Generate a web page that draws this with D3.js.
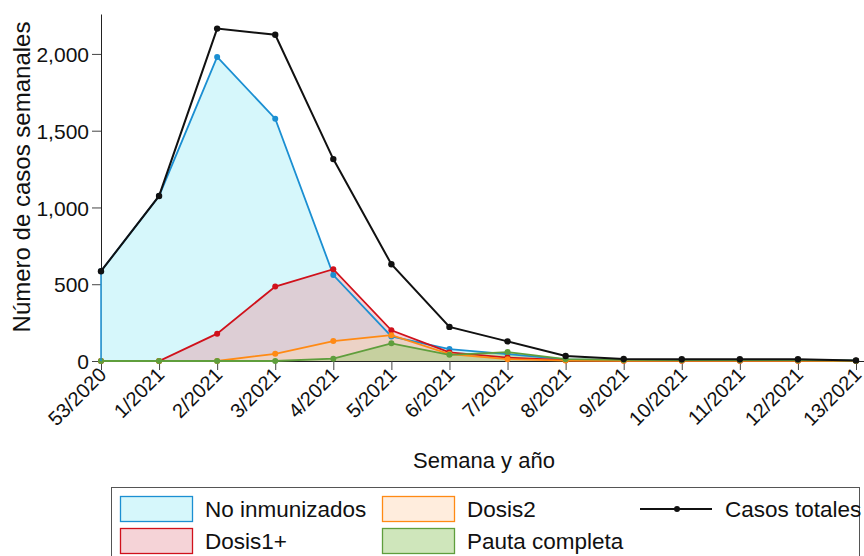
<!DOCTYPE html>
<html><head><meta charset="utf-8">
<script src="https://cdn.jsdelivr.net/npm/d3@7"></script>
<style>body{margin:0;background:#fff}svg{display:block;font-family:"Liberation Sans",Arial,sans-serif}</style>
</head><body><svg id="c" width="864" height="556"></svg>
<script>
const weeks = ["53/2020","1/2021","2/2021","3/2021","4/2021","5/2021","6/2021","7/2021","8/2021","9/2021","10/2021","11/2021","12/2021","13/2021"];
const casosTotales = [585, 1075, 2165, 2125, 1315, 630, 222, 128, 33, 13, 11, 11, 11, 4];
const noInmunizados = [585, 1075, 1980, 1578, 560, 160, 78, 45, 10, 5, 4, 4, 4, 2];
const dosis1 = [0, 0, 178, 485, 598, 200, 56, 22, 5, 2, 2, 2, 2, 1];
const dosis2 = [0, 0, 0, 47, 130, 168, 45, 12, 3, 1, 1, 1, 1, 0];
const pauta = [0, 0, 0, 0, 15, 115, 40, 58, 12, 7, 6, 6, 6, 2];
const yTicks = [0, 500, 1000, 1500, 2000];

const svg = d3.select("#c");
const x = d3.scalePoint().domain(weeks).range([101, 856]);
const y = d3.scaleLinear().domain([0, 2260]).range([361, 14]);

const series = [
  {name:"No inmunizados", v:noInmunizados, stroke:"#1b8fd2", fill:"rgba(200,244,250,0.75)"},
  {name:"Dosis1+", v:dosis1, stroke:"#d0111b", fill:"rgba(232,150,160,0.42)"},
  {name:"Dosis2", v:dosis2, stroke:"#ff8a14", fill:"rgba(255,215,180,0.45)"},
  {name:"Pauta completa", v:pauta, stroke:"#5f9e3c", fill:"rgba(160,205,120,0.5)"}
];

const area = d3.area().x((d,i)=>x(weeks[i])).y0(y(0)).y1(d=>y(d));
const line = d3.line().x((d,i)=>x(weeks[i])).y(d=>y(d));

// axes
const yAxis = svg.append("g").attr("transform","translate(101,0)")
  .call(d3.axisLeft(y).tickValues(yTicks).tickFormat(d3.format(",")).tickSize(9).tickSizeOuter(0));
yAxis.select(".domain").attr("stroke","#222");
yAxis.selectAll("line").attr("stroke","#444");
yAxis.selectAll("text").attr("font-size",21).attr("fill","#111").attr("x",-12).attr("dy","0.36em");

const xAxis = svg.append("g").attr("transform","translate(0,361)")
  .call(d3.axisBottom(x).tickSize(9).tickSizeOuter(0));
xAxis.select(".domain").attr("d","M101,0.5H864").attr("stroke","#222");
xAxis.selectAll("line").attr("stroke","#444");
xAxis.selectAll("text").attr("font-size",20).attr("fill","#111")
  .attr("text-anchor","end").attr("dy",null).attr("y",0)
  .attr("transform","translate(6,15) rotate(-45)");

series.forEach(s=>{
  svg.append("path").datum(s.v).attr("d",area).attr("fill",s.fill).attr("stroke","none");
});
series.forEach(s=>{
  svg.append("path").datum(s.v).attr("d",line).attr("fill","none").attr("stroke",s.stroke).attr("stroke-width",1.8);
  svg.append("g").selectAll("circle").data(s.v).join("circle")
    .attr("cx",(d,i)=>x(weeks[i])).attr("cy",d=>y(d)).attr("r",3).attr("fill",s.stroke);
});
// left edge of blue area
svg.append("line").attr("x1",x(weeks[0])).attr("x2",x(weeks[0])).attr("y1",y(0)).attr("y2",y(noInmunizados[0])).attr("stroke","#1b8fd2").attr("stroke-width",1.5);

svg.append("path").datum(casosTotales).attr("d",line).attr("fill","none").attr("stroke","#111").attr("stroke-width",2);
svg.append("g").selectAll("circle").data(casosTotales).join("circle")
  .attr("cx",(d,i)=>x(weeks[i])).attr("cy",d=>y(d)).attr("r",3.2).attr("fill","#111");

// titles
svg.append("text").attr("x",484).attr("y",468).attr("text-anchor","middle").attr("font-size",22).attr("fill","#111").text("Semana y año");
svg.append("text").attr("transform","translate(30,177) rotate(-90)").attr("text-anchor","middle").attr("font-size",24).attr("fill","#111").text("Número de casos semanales");

// legend
const lg = svg.append("g");
lg.append("rect").attr("x",111.5).attr("y",487.5).attr("width",748).attr("height",90).attr("fill","#fff").attr("stroke","#555");
const legItems = [
  {s:series[0], x:120, y:496},
  {s:series[1], x:120, y:528},
  {s:series[2], x:382, y:496},
  {s:series[3], x:382, y:528}
];
legItems.forEach(it=>{
  lg.append("rect").attr("x",it.x+0.5).attr("y",it.y+0.5).attr("width",72).attr("height",25)
    .attr("fill",it.s.fill).attr("stroke",it.s.stroke).attr("stroke-width",1.3);
  lg.append("text").attr("x",it.x+85).attr("y",it.y+21).attr("font-size",22.5).attr("fill","#111").text(it.s.name);
});
lg.append("line").attr("x1",640).attr("x2",712).attr("y1",509).attr("y2",509).attr("stroke","#111").attr("stroke-width",2);
lg.append("circle").attr("cx",677).attr("cy",509).attr("r",3).attr("fill","#111");
lg.append("text").attr("x",725).attr("y",517).attr("font-size",22.5).attr("fill","#111").text("Casos totales");
</script></body></html>
